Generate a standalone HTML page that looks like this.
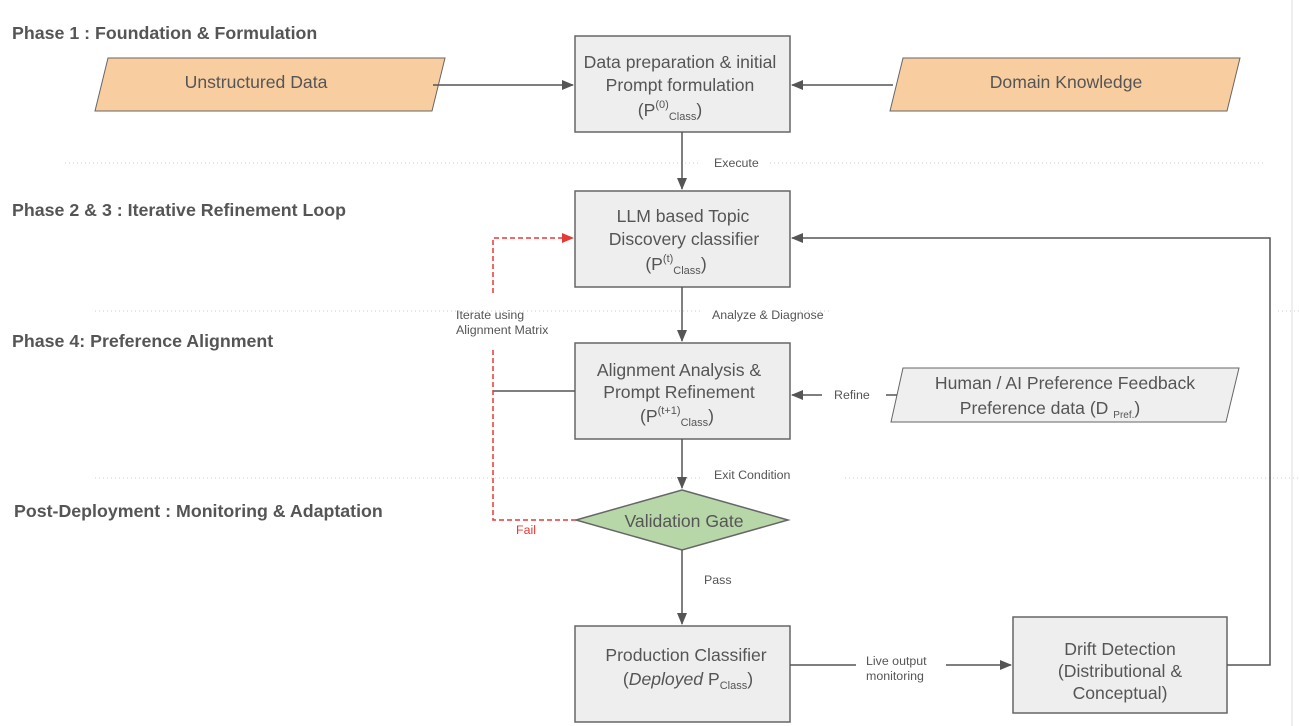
<!DOCTYPE html>
<html><head><meta charset="utf-8"><style>
html,body{margin:0;padding:0;background:#fff;}
svg{display:block;font-family:"Liberation Sans",Arial,sans-serif;}
.h{font-weight:bold;font-size:17.8px;fill:#555;}
.t{font-size:17.6px;fill:#555;text-anchor:middle;}
.s{font-size:12.4px;fill:#555;}
</style></head><body>
<svg width="1299" height="726" viewBox="0 0 1299 726" xmlns="http://www.w3.org/2000/svg">
<defs>
<marker id="a" markerWidth="12" markerHeight="12" refX="11" refY="6" orient="auto" markerUnits="userSpaceOnUse"><path d="M0,1 L12,6 L0,11 z" fill="#555"/></marker>
<marker id="r" markerWidth="12" markerHeight="12" refX="11" refY="6" orient="auto" markerUnits="userSpaceOnUse"><path d="M0,1 L12,6 L0,11 z" fill="#e53935"/></marker>
</defs>
<line x1="1292" y1="0" x2="1292" y2="726" stroke="#ddd"/>
<g stroke="#ccc" stroke-dasharray="1,3">
<line x1="65" y1="163" x2="700" y2="163"/><line x1="770" y1="163" x2="1265" y2="163"/>
<line x1="95" y1="311" x2="700" y2="311"/><line x1="1278" y1="311" x2="1299" y2="311"/><line x1="800" y1="311" x2="830" y2="311"/>
<line x1="95" y1="478" x2="700" y2="478"/><line x1="845" y1="478" x2="1299" y2="478"/>
</g>
<text class="h" x="12" y="39">Phase 1 : Foundation &amp; Formulation</text>
<text class="h" x="12" y="216">Phase 2 &amp; 3 :  Iterative Refinement Loop</text>
<text class="h" x="12" y="347">Phase 4: Preference Alignment</text>
<text class="h" x="14" y="517">Post-Deployment : Monitoring &amp; Adaptation</text>

<polygon points="108,58 445,58 432,111 95,111" fill="#f8cda0" stroke="#666"/>
<text class="t" x="256" y="88">Unstructured Data</text>
<polygon points="903,58 1240,58 1227,111 890,111" fill="#f8cda0" stroke="#666"/>
<text class="t" x="1066" y="88">Domain Knowledge</text>
<polygon points="903,368 1239,368 1226,422 891,422" fill="#efefef" stroke="#666"/>
<text class="t" x="1065" y="389">Human / AI Preference Feedback</text>
<text class="t" x="1050" y="414">Preference data (D <tspan font-size="10" dy="4">Pref.</tspan><tspan dy="-4">)</tspan></text>

<g fill="#eee" stroke="#666" stroke-width="1.5">
<rect x="575" y="36" width="215" height="96"/>
<rect x="575" y="191" width="215" height="96"/>
<rect x="575" y="343" width="215" height="96"/>
<rect x="575" y="626" width="215" height="96"/>
<rect x="1013" y="617" width="214" height="96"/>
</g>
<polygon points="682,490 788,520 682,550 576,520" fill="#b7d7a8" stroke="#666" stroke-width="1.5"/>

<text class="t" x="680" y="68">Data preparation &amp; initial</text>
<text class="t" x="680" y="91">Prompt formulation</text>
<text class="t" x="670" y="116">(P<tspan font-size="11" dy="-8">(0)</tspan><tspan font-size="11" dy="12">Class</tspan><tspan dy="-4" font-size="17.6">)</tspan></text>

<text class="t" x="683" y="222">LLM based Topic</text>
<text class="t" x="684" y="245">Discovery classifier</text>
<text class="t" x="676" y="270">(P<tspan font-size="11" dy="-8">(t)</tspan><tspan font-size="11" dy="12">Class</tspan><tspan dy="-4" font-size="17.6">)</tspan></text>

<text class="t" x="679" y="376">Alignment Analysis &amp;</text>
<text class="t" x="679" y="398">Prompt Refinement</text>
<text class="t" x="677" y="422">(P<tspan font-size="11" dy="-8">(t+1)</tspan><tspan font-size="11" dy="12">Class</tspan><tspan dy="-4" font-size="17.6">)</tspan></text>

<text class="t" x="684" y="527">Validation Gate</text>

<text class="t" x="686" y="661">Production Classifier</text>
<text class="t" x="688" y="685">(<tspan font-style="italic">Deployed</tspan> P<tspan font-size="11" dy="4">Class</tspan><tspan dy="-4">)</tspan></text>

<text class="t" x="1120" y="655">Drift Detection</text>
<text class="t" x="1120" y="677">(Distributional &amp;</text>
<text class="t" x="1120" y="699">Conceptual)</text>

<g stroke="#555" stroke-width="1.5" fill="none">
<line x1="433" y1="85" x2="573" y2="85" marker-end="url(#a)"/>
<line x1="893" y1="85" x2="792" y2="85" marker-end="url(#a)"/>
<line x1="682" y1="132" x2="682" y2="189" marker-end="url(#a)"/>
<line x1="682" y1="287" x2="682" y2="341" marker-end="url(#a)"/>
<line x1="682" y1="439" x2="682" y2="488" marker-end="url(#a)"/>
<line x1="682" y1="550" x2="682" y2="624" marker-end="url(#a)"/>
<line x1="822" y1="395" x2="792" y2="395" marker-end="url(#a)"/>
<line x1="886" y1="395" x2="897" y2="395"/>
<line x1="790" y1="665" x2="856" y2="665"/>
<line x1="946" y1="665" x2="1011" y2="665" marker-end="url(#a)"/>
<polyline points="1227,665 1270,665 1270,238 792,238" marker-end="url(#a)"/>
<line x1="493" y1="391" x2="575" y2="391"/>
</g>
<g stroke="#e53935" stroke-width="1.5" fill="none" stroke-dasharray="5,3">
<polyline points="576,520 493,520 493,349"/>
<polyline points="493,293 493,238 573,238" marker-end="url(#r)"/>
</g>
<text class="s" x="714" y="167">Execute</text>
<text class="s" x="712" y="319">Analyze &amp; Diagnose</text>
<text class="s" x="714" y="479">Exit Condition</text>
<text class="s" x="704" y="584">Pass</text>
<text class="s" x="834" y="399">Refine</text>
<text class="s" x="456" y="319">Iterate using</text>
<text class="s" x="456" y="334">Alignment Matrix</text>
<text class="s" x="516" y="534" style="fill:#e53935">Fail</text>
<text class="s" x="866" y="665">Live output</text>
<text class="s" x="866" y="680">monitoring</text>
</svg>
</body></html>
